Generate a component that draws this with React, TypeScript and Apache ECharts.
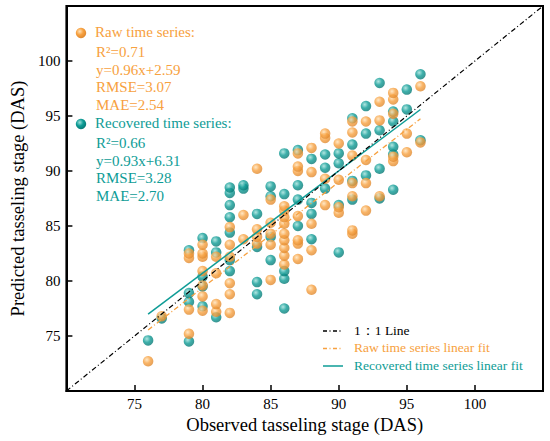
import React, { useEffect, useRef } from "react";
import * as echarts from "echarts";

// Observed (x) vs predicted (y) tasseling stage, DAS
const rawPoints: [number, number][] = [
  [76, 72.7], [77, 76.8],
  [79, 75.2], [79, 77.4], [79, 82.1], [79, 82.5],
  [80, 77.3], [80, 78.6], [80, 79.6], [80, 80.9], [80, 82.2], [80, 82.5], [80, 83.3],
  [81, 77.2], [81, 77.9], [81, 80.7], [81, 82.2],
  [82, 77.1], [82, 78.8], [82, 79.8], [82, 82.2], [82, 83.3], [82, 84.9],
  [83, 83.8], [83, 86.0],
  [84, 83.4], [84, 84.0], [84, 84.7], [84, 90.2],
  [85, 80.1], [85, 83.3], [85, 84.3], [85, 85.3], [85, 87.4],
  [86, 81.5], [86, 82.3], [86, 83.0], [86, 83.7], [86, 84.3], [86, 85.2], [86, 85.8], [86, 86.4], [86, 86.8],
  [87, 82.0], [87, 83.4], [87, 83.7], [87, 85.9], [87, 90.0], [87, 90.4], [87, 91.6],
  [88, 79.2], [88, 82.8], [88, 85.2], [88, 89.9], [88, 92.1],
  [89, 86.9], [89, 89.3], [89, 93.0], [89, 93.4],
  [90, 86.2], [90, 86.7], [90, 89.2], [90, 92.5],
  [91, 84.3], [91, 84.6], [91, 87.7], [91, 88.9], [91, 91.4], [91, 93.5], [91, 94.5],
  [92, 86.4], [92, 88.9], [92, 91.0], [92, 94.5],
  [93, 87.7], [93, 94.6], [93, 96.3],
  [94, 90.9], [94, 91.3], [94, 95.2], [94, 96.5], [94, 97.1],
  [95, 91.7], [95, 93.4],
  [96, 92.6], [96, 97.7],
];

const recoveredPoints: [number, number][] = [
  [76, 74.6], [77, 76.6],
  [79, 74.5], [79, 78.1], [79, 78.9], [79, 82.8],
  [80, 77.7], [80, 79.5], [80, 80.4], [80, 83.9],
  [81, 76.7], [81, 82.6], [81, 83.6],
  [82, 80.9], [82, 81.9], [82, 84.4], [82, 85.8], [82, 86.9], [82, 88.0], [82, 88.5],
  [83, 88.4], [83, 88.7],
  [84, 78.8], [84, 79.9], [84, 83.1], [84, 86.1],
  [85, 81.9], [85, 84.0], [85, 87.7], [85, 88.6],
  [86, 77.5], [86, 80.2], [86, 80.9], [86, 87.9], [86, 91.6],
  [87, 85.0], [87, 87.4], [87, 88.7], [87, 91.9],
  [88, 83.8], [88, 86.1], [88, 87.1], [88, 91.1],
  [89, 88.4], [89, 90.3], [89, 91.5],
  [90, 82.6], [90, 86.9], [90, 90.7], [90, 91.6],
  [91, 87.4], [91, 89.1], [91, 92.4], [91, 94.8],
  [92, 89.6], [92, 93.4], [92, 95.9],
  [93, 87.5], [93, 90.2], [93, 93.7], [93, 98.0],
  [94, 88.3], [94, 91.5], [94, 92.2], [94, 94.5], [94, 95.4],
  [95, 95.6], [95, 97.4],
  [96, 92.8], [96, 98.8],
];

// fit lines (endpoints from y=0.96x+2.59 and y=0.93x+6.31 over 76..96)
const rawFit: [number, number][] = [[76, 75.55], [96, 94.75]];
const recoveredFit: [number, number][] = [[76, 76.99], [96, 95.59]];
const oneToOne: [number, number][] = [[70, 70], [105, 105]];

const rawStats = ["Raw time series:", "R²=0.71", "y=0.96x+2.59", "RMSE=3.07", "MAE=2.54"];
const recStats = ["Recovered time series:", "R²=0.66", "y=0.93x+6.31", "RMSE=3.28", "MAE=2.70"];
const fitLegend = ["1：1 Line", "Raw time series linear fit", "Recovered time series linear fit"];

const ORANGE = "#F7A140";
const TEAL = "#0E9C96";
const FONT = "Liberation Serif, Times New Roman, serif";

function sphere(base: string, light: string, dark: string) {
  return {
    type: "radial",
    x: 0.38,
    y: 0.35,
    r: 0.75,
    colorStops: [
      { offset: 0, color: light },
      { offset: 0.45, color: base },
      { offset: 1, color: dark },
    ],
  } as any;
}

const orangeFill = sphere(ORANGE, "#FFE2B8", "#D9822A");
const tealFill = sphere(TEAL, "#9FE0DA", "#06706C");

export default function App() {
  const ref = useRef<HTMLDivElement>(null);
  useEffect(() => {
    document.body.style.margin = "0";
    if (!ref.current) return;
    const chart = echarts.init(ref.current, undefined, { renderer: "svg" });
    const statLine = (lines: string[], color: string, y0: number) =>
      lines.map((t, i) => ({
        type: "text",
        left: i === 0 ? 95 : 96,
        top: (i === 0 ? y0 : y0 + 20.5 + (i - 1) * 17.6) - 9,
        style: { text: t, fill: color, fontFamily: FONT, fontSize: 15 },
      }));
    const legendRows = [
      { y: 331, color: "#000", dash: [4, 2.5, 1, 2.5], text: fitLegend[0] },
      { y: 348.5, color: ORANGE, dash: [4, 2.5, 1, 2.5], text: fitLegend[1] },
      { y: 366, color: TEAL, dash: null as any, text: fitLegend[2] },
    ];
    chart.setOption({
      animation: false,
      grid: { left: 51, top: 6, right: 7, bottom: 50, show: true, borderColor: "#000", borderWidth: 2 },
      xAxis: {
        type: "value",
        min: 70,
        max: 105,
        interval: 5,
        name: "Observed tasseling stage (DAS)",
        nameLocation: "middle",
        nameGap: 23,
        nameTextStyle: { fontFamily: FONT, fontSize: 18.5, color: "#000" },
        axisLine: { show: true, lineStyle: { color: "#000", width: 2 } },
        axisTick: { show: true, inside: true, length: 6, lineStyle: { color: "#000", width: 1.5 } },
        axisLabel: { showMinLabel: false, showMaxLabel: false, fontFamily: FONT, fontSize: 15, color: "#000", margin: 5 },
        splitLine: { show: false },
      },
      yAxis: {
        type: "value",
        min: 70,
        max: 105,
        interval: 5,
        name: "Predicted tasseling stage (DAS)",
        nameLocation: "middle",
        nameGap: 30,
        nameTextStyle: { fontFamily: FONT, fontSize: 18.5, color: "#000" },
        axisLine: { show: true, lineStyle: { color: "#000", width: 2 } },
        axisTick: { show: true, inside: true, length: 6, lineStyle: { color: "#000", width: 1.5 } },
        axisLabel: { showMinLabel: false, showMaxLabel: false, fontFamily: FONT, fontSize: 15, color: "#000", margin: 6 },
        splitLine: { show: false },
      },
      series: [
        {
          type: "scatter",
          name: "Recovered",
          data: recoveredPoints,
          symbolSize: 10.5,
          itemStyle: { color: tealFill },
          z: 2,
        },
        {
          type: "scatter",
          name: "Raw",
          data: rawPoints,
          symbolSize: 10.5,
          itemStyle: { color: orangeFill },
          z: 3,
        },
        {
          type: "line",
          data: rawFit,
          showSymbol: false,
          lineStyle: { color: ORANGE, width: 1.3, type: [5, 2.5, 1, 2.5] },
          z: 4,
        },
        {
          type: "line",
          data: recoveredFit,
          showSymbol: false,
          lineStyle: { color: TEAL, width: 1.5 },
          z: 5,
        },
        {
          type: "line",
          data: oneToOne,
          showSymbol: false,
          lineStyle: { color: "#000", width: 1.2, type: [5, 2.5, 1, 2.5] },
          z: 6,
        },
      ],
      graphic: [
        { type: "circle", shape: { cx: 81, cy: 33, r: 5.2 }, style: { fill: orangeFill } },
        { type: "circle", shape: { cx: 81, cy: 124, r: 5.2 }, style: { fill: tealFill } },
        ...statLine(rawStats, ORANGE, 33),
        ...statLine(recStats, TEAL, 124),
        ...legendRows.flatMap((r) => [
          {
            type: "line",
            shape: { x1: 323, y1: r.y, x2: 343, y2: r.y },
            style: { stroke: r.color, lineWidth: 1.5, lineDash: r.dash || undefined },
          },
          {
            type: "text",
            left: 354,
            top: r.y - 8,
            style: { text: r.text, fill: r.color, fontFamily: FONT, fontSize: 13.5 },
          },
        ]),
      ],
    });
    return () => chart.dispose();
  }, []);
  return <div ref={ref} style={{ width: 550, height: 441 }} />;
}
